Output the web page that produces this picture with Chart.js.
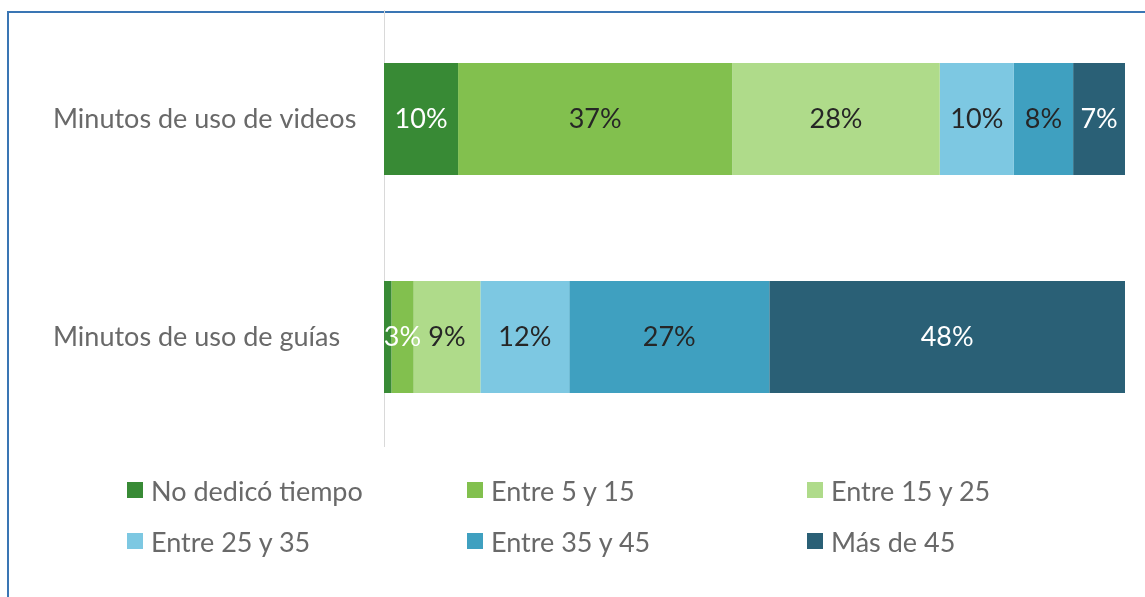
<!DOCTYPE html>
<html>
<head>
<meta charset="utf-8">
<script src="https://cdn.jsdelivr.net/npm/chart.js@4/dist/chart.umd.min.js"></script>
<style>
  html, body { margin: 0; padding: 0; background: #fff; overflow: hidden; }
  #wrap { position: relative; width: 1145px; height: 597px; }
  #frame { position: absolute; left: 7px; top: 11px; width: 1160px; height: 620px; border: 2px solid #3a76b4; }
  #chart { position: absolute; left: 0; top: 0; }
  #legend { position: absolute; left: 127px; top: 475px; display: grid; grid-template-columns: 340px 340px 340px; row-gap: 21px;
            font-family: Lato, sans-serif; font-size: 27px; color: #696969; }
  #legend div { display: flex; align-items: center; height: 30px; }
  #legend span.box { width: 16px; height: 16px; margin-right: 8px; display: inline-block; }
</style>
</head>
<body>
<div id="wrap">
  <div id="frame"></div>
  <canvas id="chart" width="1145" height="597"></canvas>
  <div id="legend"></div>
</div>
<script>
// minutos de uso - videos / guías
var categorias = ['Minutos de uso de videos', 'Minutos de uso de guías'];
var rangos = ['No dedicó tiempo', 'Entre 5 y 15', 'Entre 15 y 25', 'Entre 25 y 35', 'Entre 35 y 45', 'Más de 45'];
var noDedico = [10, 1];
var entre5y15 = [37, 3];
var entre15y25 = [28, 9];
var entre25y35 = [10, 12];
var entre35y45 = [8, 27];
var masDe45 = [7, 48];

var colores = ['#388a35', '#82c04e', '#afdb8a', '#7dc8e2', '#3fa0c0', '#2a6076'];
// color del texto dentro de cada barra (videos, guías)
var coloresTexto = [
    ['#ffffff', '#ffffff'],
    ['#262626', '#ffffff'],
    ['#262626', '#262626'],
    ['#262626', '#262626'],
    ['#262626', '#262626'],
    ['#ffffff', '#ffffff'],
];

var valores = [noDedico, entre5y15, entre15y25, entre25y35, entre35y45, masDe45];

var data = {
    labels: categorias,
    datasets: valores.map(function (serie, i) {
        return {
            label: rangos[i],
            data: serie,
            backgroundColor: colores[i],
            borderWidth: 0,
            barPercentage: 1,
            categoryPercentage: 0.514,
            labelColors: coloresTexto[i],
        };
    }),
};

// etiquetas de porcentaje en el centro de cada segmento
var etiquetas = {
    id: 'etiquetas',
    afterDatasetsDraw: function (chart) {
        var ctx = chart.ctx;
        ctx.save();
        ctx.font = '27px Lato, sans-serif';
        ctx.textAlign = 'center';
        ctx.textBaseline = 'middle';
        chart.data.datasets.forEach(function (ds, i) {
            chart.getDatasetMeta(i).data.forEach(function (bar, j) {
                var v = ds.data[j];
                if (v < 2) return;
                ctx.fillStyle = ds.labelColors[j];
                ctx.fillText(v + '%', (bar.x + bar.base) / 2, bar.y);
            });
        });
        ctx.restore();
    },
};

var config = {
    type: 'bar',
    data: data,
    options: {
        indexAxis: 'y',
        responsive: false,
        animation: false,
        layout: {
            padding: { left: 53, right: 20, top: 10, bottom: 151 },
        },
        plugins: {
            legend: { display: false },
            tooltip: { enabled: false },
        },
        scales: {
            x: {
                stacked: true,
                display: false,
                min: 0,
                max: 100,
            },
            y: {
                stacked: true,
                grid: { display: false },
                border: { display: true, color: '#d9d9d9', width: 1 },
                afterFit: function (scale) {
                    scale.width = 331;
                    scale.paddingTop = 0;
                    scale.paddingBottom = 0;
                },
                ticks: {
                    crossAlign: 'far',
                    color: '#696969',
                    padding: 0,
                    font: { family: 'Lato, sans-serif', size: 27 },
                },
            },
        },
    },
    plugins: [etiquetas],
};

var myChart = new Chart(document.getElementById('chart'), config);

// leyenda en cuadricula de 3 columnas
var leyenda = document.getElementById('legend');
myChart.data.datasets.forEach(function (ds) {
    var item = document.createElement('div');
    item.innerHTML = '<span class="box" style="background:' + ds.backgroundColor + '"></span>' + ds.label;
    leyenda.appendChild(item);
});
</script>
</body>
</html>
